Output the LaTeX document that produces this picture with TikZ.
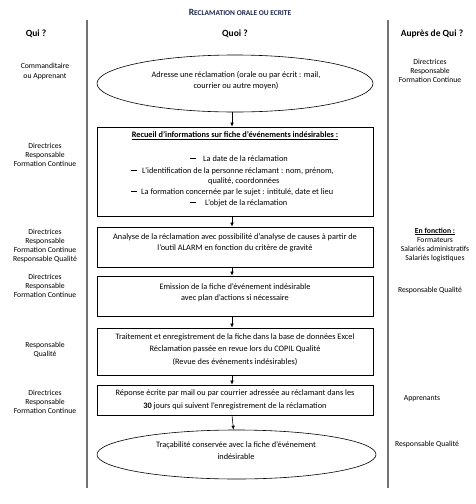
\documentclass[tikz,border=0pt]{standalone}
\usepackage{fontspec}
\setmainfont{Carlito}
\usetikzlibrary{arrows.meta,shapes.geometric}
\definecolor{titleblue}{rgb}{0.12,0.16,0.32}
\newcommand{\smc}[1]{{\fontsize{7.4}{8}\selectfont #1}}
\newcommand{\dashmark}{\rule[2.4pt]{6pt}{0.6pt}}
\begin{document}
\begin{tikzpicture}[x=1pt,y=-1pt,
  font=\fontsize{8.3}{10}\selectfont,
  box/.style={draw, line width=0.8pt, minimum width=276pt, inner sep=0pt},
  ell/.style={draw, ellipse, line width=0.6pt, inner sep=0pt},
  txt/.style={align=center, inner sep=0pt},
  li/.style={anchor=base west, inner sep=0pt},
  col/.style={align=center, inner sep=0pt, font=\fontsize{7.7}{9}\selectfont},
  hdr/.style={inner sep=0pt, font=\fontsize{9.5}{11}\selectfont\bfseries},
  sep/.style={draw=black!55, line width=1.2pt},
  arr/.style={-{Latex[length=4pt,width=3.6pt]}, line width=0.6pt}]
\useasboundingbox (0,0) rectangle (476,504);
% title and headers
\node[inner sep=0pt, text=titleblue, font=\fontsize{9.5}{11}\selectfont\bfseries] (title) at (240,12)
  {R\smc{ECLAMATION ORALE OU ECRITE}};
\node[hdr] (h1) at (36,34) {Qui ?};
\node[hdr] (h2) at (235,34) {Quoi ?};
\node[hdr] (h3) at (432,34) {Auprès de Qui ?};
% column separators
\coordinate (s1a) at (87,20); \coordinate (s1b) at (87,488);
\coordinate (s2a) at (388,20); \coordinate (s2b) at (388,488);
\draw[sep] (s1a) -- (s1b);
\draw[sep] (s2a) -- (s2b);
% shapes
\node[ell, minimum width=276pt, minimum height=57pt] (e1) at (235,83.5) {};
\node[box, minimum height=89pt] (b2) at (235,171.5) {};
\node[box, minimum height=40pt] (b3) at (235,247) {};
\node[box, minimum height=40pt] (b4) at (235,296) {};
\node[box, minimum height=47pt] (b5) at (235,351.5) {};
\node[box, minimum height=30pt] (b6) at (235,400) {};
\node[ell, minimum width=279pt, minimum height=49pt] (e2) at (236.5,454.5) {};
% connectors
\draw[arr] ([xshift=-3pt]e1.south) -- ([xshift=-3pt]b2.north);
\draw[arr] ([xshift=-3pt]b2.south) -- ([xshift=-3pt]b3.north);
\draw[arr] ([xshift=-3pt]b3.south) -- ([xshift=-3pt]b4.north);
\draw[arr] ([xshift=-3pt]b4.south) -- ([xshift=-3pt]b5.north);
\draw[arr] ([xshift=-3pt]b5.south) -- ([xshift=-3pt]b6.north);
\draw[arr] ([xshift=-3pt]b6.south) -- ([xshift=-3pt]e2.north);
% texts in the middle column
\node[txt, font=\fontsize{8.3}{11}\selectfont] (t1) at (236,80.5)
  {Adresse une réclamation (orale ou par écrit : mail,\\courrier ou autre moyen)};
\node[txt, font=\fontsize{8.3}{10}\selectfont\bfseries] (t2a) at (235,136)
  {\underline{Recueil d’informations sur fiche d’événements indésirables :}};
\node[li] (d1) at (190,161) {\dashmark};
\node[li] (l1) at (203,161) {La date de la réclamation};
\node[li] (d2) at (131,173) {\dashmark};
\node[li] (l2) at (142,173) {L’identification de la personne réclamant : nom, prénom,};
\node[li] (l3) at (208,183.5) {qualité, coordonnées};
\node[li] (d4) at (131,194) {\dashmark};
\node[li] (l4) at (141,194) {La formation concernée par le sujet : intitulé, date et lieu};
\node[li] (d5) at (190,205) {\dashmark};
\node[li] (l5) at (205,205) {L’objet de la réclamation};
\node[txt, font=\fontsize{8.3}{10.5}\selectfont] (t3) at (235,243)
  {Analyse de la réclamation avec possibilité d’analyse de causes à partir de\\l’outil ALARM en fonction du critère de gravité};
\node[txt, font=\fontsize{8.3}{11}\selectfont] (t4) at (235,292.5)
  {Emission de la fiche d’événement indésirable\\avec plan d’actions si nécessaire};
\node[txt, font=\fontsize{8.3}{12.5}\selectfont] (t5) at (235,349.5)
  {Traitement et enregistrement de la fiche dans la base de données Excel\\Réclamation passée en revue lors du COPIL Qualité\\(Revue des événements indésirables)};
\node[txt, font=\fontsize{8.3}{13}\selectfont] (t6) at (235,399.5)
  {Réponse écrite par mail ou par courrier adressée au réclamant dans les\\\textbf{30} jours qui suivent l’enregistrement de la réclamation};
\node[txt, font=\fontsize{8.3}{12}\selectfont] (t7) at (236,451)
  {Traçabilité conservée avec la fiche d’événement\\indésirable};
% left column
\node[col, font=\fontsize{7.7}{10}\selectfont] (q1) at (45,71) {Commanditaire\\ou Apprenant};
\node[col] (q2) at (45,154.5) {Directrices\\Responsable\\Formation Continue};
\node[col] (q3) at (45,245.5) {Directrices\\Responsable\\Formation Continue\\Responsable Qualité};
\node[col] (q4) at (45,286) {Directrices\\Responsable\\Formation Continue};
\node[col] (q5) at (45,349.5) {Responsable\\Qualité};
\node[col] (q6) at (45,401.5) {Directrices\\Responsable\\Formation Continue};
% right column
\node[col] (r1) at (430,71) {Directrices\\Responsable\\Formation Continue};
\node[col] (r2) at (435,244.5) {\textbf{\underline{En fonction :}}\\Formateurs\\Salariés administratifs\\Salariés logistiques};
\node[col] (r3) at (430,290) {Responsable Qualité};
\node[col] (r4) at (422,399) {Apprenants};
\node[col] (r5) at (427,444) {Responsable Qualité};
\end{tikzpicture}
\end{document}
